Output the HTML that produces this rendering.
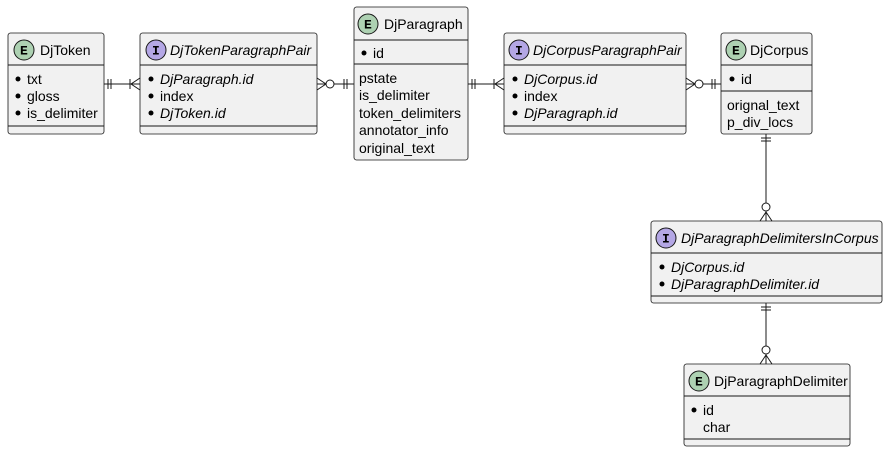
<!DOCTYPE html>
<html><head><meta charset="utf-8"><style>
html,body{margin:0;padding:0;background:#fff;}
svg{display:block}
text{font-family:"Liberation Sans",sans-serif;font-size:14px;fill:#000}
.it{font-style:italic}
.bx{fill:#f1f1f1;stroke:#181818;stroke-width:0.8}
.ln{stroke:#181818;stroke-width:1;fill:none}
.ce{fill:#ADD1B2;stroke:#181818;stroke-width:1}
.ci{fill:#B4A7E5;stroke:#181818;stroke-width:1}
.ct{font-family:"Liberation Mono",monospace;font-weight:bold;font-size:13px}
</style></head><body>
<svg width="888" height="453" viewBox="0 0 888 453" xmlns="http://www.w3.org/2000/svg">
<!-- DjToken -->
<rect class="bx" x="8" y="33" width="96" height="101" rx="2.5"/>
<circle class="ce" cx="24" cy="50" r="10"/><text class="ct" x="20" y="54.5">E</text>
<text x="40" y="55">DjToken</text>
<line class="ln" x1="8" y1="65" x2="104" y2="65"/>
<circle cx="18" cy="79" r="2.5"/><text x="27" y="84">txt</text>
<circle cx="18" cy="96" r="2.5"/><text x="27" y="101">gloss</text>
<circle cx="18" cy="113" r="2.5"/><text x="27" y="118">is_delimiter</text>
<line class="ln" x1="8" y1="126" x2="104" y2="126"/>

<!-- DjTokenParagraphPair -->
<rect class="bx" x="140" y="33" width="177" height="101" rx="2.5"/>
<circle class="ci" cx="156" cy="50" r="10"/><text class="ct" x="152" y="54.5">I</text>
<text class="it" x="170" y="55">DjTokenParagraphPair</text>
<line class="ln" x1="140" y1="65" x2="317" y2="65"/>
<circle cx="151" cy="79" r="2.5"/><text class="it" x="160" y="84">DjParagraph.id</text>
<circle cx="151" cy="96" r="2.5"/><text x="160" y="101">index</text>
<circle cx="151" cy="113" r="2.5"/><text class="it" x="160" y="118">DjToken.id</text>
<line class="ln" x1="140" y1="126" x2="317" y2="126"/>

<!-- DjParagraph -->
<rect class="bx" x="354" y="7" width="114" height="153" rx="2.5"/>
<circle class="ce" cx="368" cy="24" r="10"/><text class="ct" x="364" y="28.5">E</text>
<text x="384" y="29">DjParagraph</text>
<line class="ln" x1="354" y1="40" x2="468" y2="40"/>
<circle cx="364" cy="53" r="2.5"/><text x="373" y="58">id</text>
<line class="ln" x1="354" y1="64" x2="468" y2="64"/>
<text x="359" y="83">pstate</text>
<text x="359" y="100">is_delimiter</text>
<text x="359" y="118">token_delimiters</text>
<text x="359" y="135">annotator_info</text>
<text x="359" y="153">original_text</text>

<!-- DjCorpusParagraphPair -->
<rect class="bx" x="504" y="33" width="182" height="101" rx="2.5"/>
<circle class="ci" cx="519" cy="50" r="10"/><text class="ct" x="515" y="54.5">I</text>
<text class="it" x="533" y="55">DjCorpusParagraphPair</text>
<line class="ln" x1="504" y1="65" x2="686" y2="65"/>
<circle cx="515" cy="79" r="2.5"/><text class="it" x="524" y="84">DjCorpus.id</text>
<circle cx="515" cy="96" r="2.5"/><text x="524" y="101">index</text>
<circle cx="515" cy="113" r="2.5"/><text class="it" x="524" y="118">DjParagraph.id</text>
<line class="ln" x1="504" y1="126" x2="686" y2="126"/>

<!-- DjCorpus -->
<rect class="bx" x="721" y="33" width="91" height="101" rx="2.5"/>
<circle class="ce" cx="736" cy="50" r="10"/><text class="ct" x="732" y="54.5">E</text>
<text x="750" y="55">DjCorpus</text>
<line class="ln" x1="721" y1="65" x2="812" y2="65"/>
<circle cx="732" cy="79" r="2.5"/><text x="741" y="84">id</text>
<line class="ln" x1="721" y1="91" x2="812" y2="91"/>
<text x="727" y="110">orignal_text</text>
<text x="727" y="127">p_div_locs</text>

<!-- DjParagraphDelimitersInCorpus -->
<rect class="bx" x="651" y="221" width="231" height="82" rx="2.5"/>
<circle class="ci" cx="666" cy="238" r="10"/><text class="ct" x="662" y="242.5">I</text>
<text class="it" x="681" y="243">DjParagraphDelimitersInCorpus</text>
<line class="ln" x1="651" y1="253" x2="882" y2="253"/>
<circle cx="662" cy="267" r="2.5"/><text class="it" x="671" y="272">DjCorpus.id</text>
<circle cx="662" cy="284" r="2.5"/><text class="it" x="671" y="289">DjParagraphDelimiter.id</text>
<line class="ln" x1="651" y1="296" x2="882" y2="296"/>

<!-- DjParagraphDelimiter -->
<rect class="bx" x="684" y="364" width="166" height="82" rx="2.5"/>
<circle class="ce" cx="699" cy="381" r="10"/><text class="ct" x="695" y="385.5">E</text>
<text x="714" y="386">DjParagraphDelimiter</text>
<line class="ln" x1="684" y1="396" x2="850" y2="396"/>
<circle cx="694" cy="410" r="2.5"/><text x="703" y="415">id</text>
<text x="703" y="432">char</text>
<line class="ln" x1="684" y1="439" x2="850" y2="439"/>

<!-- connectors -->
<g class="ln">
<line x1="104" y1="84" x2="140" y2="84"/>
<line x1="108" y1="79" x2="108" y2="89"/><line x1="111" y1="79" x2="111" y2="89"/>
<line x1="130" y1="79" x2="130" y2="89"/>
<polyline points="140,78 131,84 140,90"/>
<line x1="317" y1="84" x2="354" y2="84"/>
<polyline points="317,78 326,84 317,90"/>
<circle cx="330" cy="84" r="4" fill="#fff"/>
<line x1="344" y1="79" x2="344" y2="89"/><line x1="347" y1="79" x2="347" y2="89"/>
<line x1="468" y1="84" x2="504" y2="84"/>
<line x1="472" y1="79" x2="472" y2="89"/><line x1="475" y1="79" x2="475" y2="89"/>
<line x1="494" y1="79" x2="494" y2="89"/>
<polyline points="504,78 495,84 504,90"/>
<line x1="686" y1="84" x2="721" y2="84"/>
<polyline points="686,78 695,84 686,90"/>
<circle cx="699" cy="84" r="4" fill="#fff"/>
<line x1="712" y1="79" x2="712" y2="89"/><line x1="715" y1="79" x2="715" y2="89"/>
<line x1="766" y1="134" x2="766" y2="221"/>
<line x1="761" y1="138" x2="771" y2="138"/><line x1="761" y1="141" x2="771" y2="141"/>
<circle cx="766" cy="207" r="4" fill="#fff"/>
<polyline points="760,221 766,212 772,221"/>
<line x1="766" y1="303" x2="766" y2="364"/>
<line x1="761" y1="307" x2="771" y2="307"/><line x1="761" y1="310" x2="771" y2="310"/>
<circle cx="766" cy="350" r="4" fill="#fff"/>
<polyline points="760,364 766,355 772,364"/>
</g>
</svg>
</body></html>
